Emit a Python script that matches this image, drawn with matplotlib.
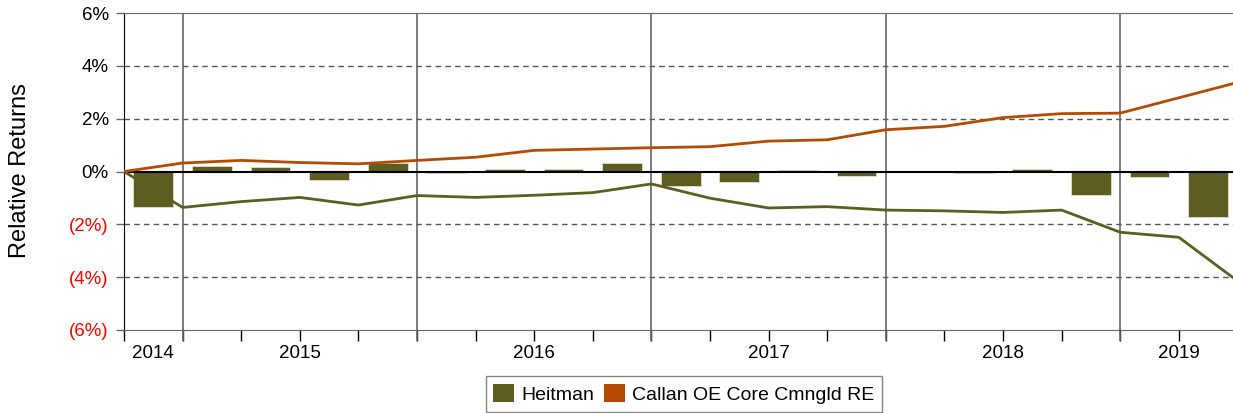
import numpy as np
import matplotlib
matplotlib.use("Agg")
import matplotlib.pyplot as plt
from matplotlib.patches import Patch

plt.rcParams['font.family'] = ['Liberation Sans', 'DejaVu Sans']

# quarter ends: 0 = start (Q4 2013) ... 19 = Q2 2019
heitman_cum = [0.00, -1.36, -1.14, -0.98, -1.27, -0.91, -0.98, -0.90, -0.80, -0.47,
               -1.01, -1.38, -1.33, -1.46, -1.49, -1.55, -1.46, -2.30, -2.49, -4.14]
callan_cum = [0.00, 0.32, 0.42, 0.34, 0.29, 0.42, 0.54, 0.80, 0.85, 0.90,
              0.94, 1.15, 1.20, 1.58, 1.71, 2.04, 2.19, 2.21, 2.79, 3.37]
# quarterly relative returns (bars)
heitman_qtr = [-1.36, 0.20, 0.18, -0.32, 0.34, -0.06, 0.08, 0.11, 0.33, -0.56,
               -0.39, 0.04, -0.18, -0.03, -0.06, 0.08, -0.90, -0.22, -1.71]
years = ['2014', '2015', '2016', '2017', '2018', '2019']
year_pos = [0.5, 3, 7, 11, 15, 18]
year_lines = [1, 5, 9, 13, 17]
y_ticks = [-6, -4, -2, 0, 2, 4, 6]

olive = '#5D5D22'
rust = '#B54A04'

fig = plt.figure(figsize=(12.33, 4.13), dpi=100)
ax = fig.add_axes([124 / 1233, 1 - 330 / 413, 1113.4 / 1233, 317 / 413])

xq = np.arange(len(heitman_cum))
xb = np.arange(len(heitman_qtr)) + 0.5

for v in [-4, -2, 2, 4]:
    ax.axhline(v, color='#555555', lw=1.0, ls=(0, (4, 3)), zorder=1)
for x in year_lines:
    ax.axvline(x, color='#666666', lw=1.2, zorder=1)
    ax.plot([x, x], [0, -0.03], transform=ax.get_xaxis_transform(), color='#666666',
            lw=1.2, clip_on=False)

ax.bar(xb, heitman_qtr, width=0.68, color=olive, edgecolor='#e0dfc8', linewidth=0.6, zorder=2)
ax.axhline(0, color='black', lw=1.5, zorder=3)
ax.plot(xq, heitman_cum, color=olive, lw=2.0, zorder=4)
ax.plot(xq, callan_cum, color=rust, lw=2.0, zorder=5)

ax.set_xlim(0, 19)
ax.set_ylim(-6, 6)

ax.set_yticks(y_ticks)
ylabels = []
for v in y_ticks:
    ylabels.append(f'({abs(v)}%)' if v < 0 else f'{v}%')
ax.set_yticklabels(ylabels, fontsize=13.5)
for lab, v in zip(ax.get_yticklabels(), y_ticks):
    lab.set_color('red' if v < 0 else 'black')
ax.tick_params(axis='y', direction='out', length=6, width=1, color='#666666', pad=5)

ax.xaxis.remove_overlapping_locs = False
ax.set_xticks(np.arange(0, 20))
ax.set_xticklabels([])
ax.set_xticks(year_pos, minor=True)
ax.set_xticklabels(years, minor=True, fontsize=13.5)
ax.tick_params(axis='x', which='major', direction='out', length=8, width=1, color='black')
ax.tick_params(axis='x', which='minor', length=0, pad=11)

ax.spines['left'].set_color('black')
ax.spines['top'].set_color('#666666')
ax.spines['bottom'].set_color('#666666')
ax.spines['right'].set_visible(False)

fig.text(20 / 1233, 1 - 171 / 413, 'Relative Returns', rotation=90, ha='center', va='center',
         fontsize=17)

handles = [Patch(facecolor=olive, edgecolor='none', label='Heitman'),
           Patch(facecolor=rust, edgecolor='none', label='Callan OE Core Cmngld RE')]
leg = fig.legend(handles=handles, loc='center', bbox_to_anchor=(684 / 1233, 1 - 394 / 413),
                 ncol=2, fontsize=14, frameon=True, fancybox=False, edgecolor='#666666',
                 handlelength=1.05, handleheight=1.05, handletextpad=0.4, columnspacing=0.5,
                 borderpad=0.4, borderaxespad=0)
leg.get_frame().set_linewidth(1.0)

fig.savefig('out.png', dpi=100)
